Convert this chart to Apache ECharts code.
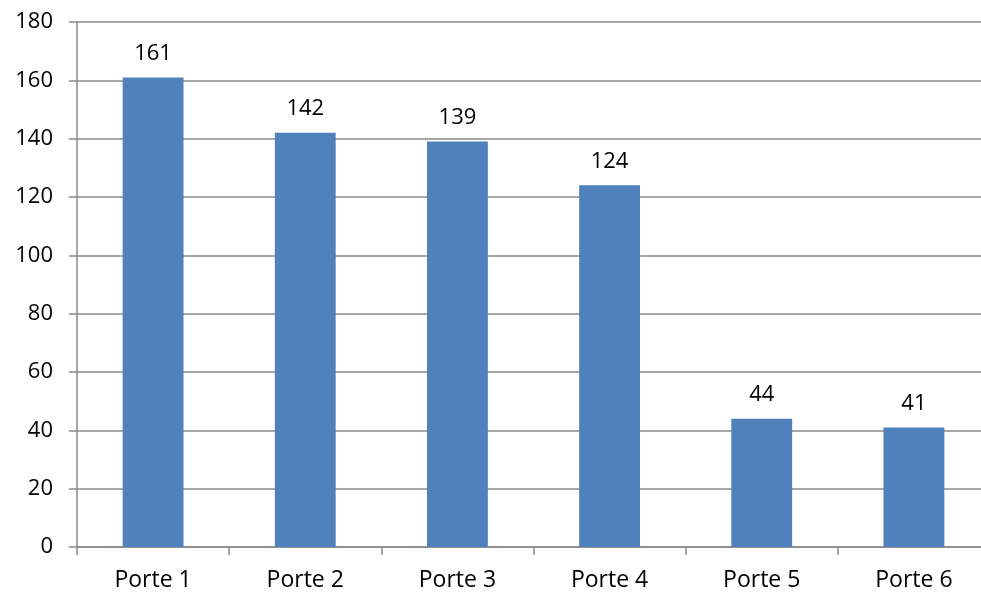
<!DOCTYPE html>
<html>
<head>
<meta charset="utf-8">
<script src="https://cdn.jsdelivr.net/npm/echarts@6/dist/echarts.min.js"></script>
<style>
html,body{margin:0;padding:0;background:#fff;overflow:hidden;width:981px;height:592px;}
#chart{width:990px;height:592px;}
</style>
</head>
<body>
<div id="chart"></div>
<script>
var categories = ["Porte 1", "Porte 2", "Porte 3", "Porte 4", "Porte 5", "Porte 6"];
var values = [161, 142, 139, 124, 44, 41];
var yMin = 0, yMax = 180, yStep = 20;

var FONT = "Open Sans";
var LINE = '#8a8a8a';
var LW = 1.5;
var chart = echarts.init(document.getElementById('chart'), null, {renderer: 'canvas'});
chart.setOption({
  animation: false,
  backgroundColor: '#ffffff',
  grid: {left: 77, right: 0, top: 22, bottom: 45, containLabel: false},
  xAxis: {
    type: 'category',
    data: categories,
    boundaryGap: true,
    axisLine: {show: true, lineStyle: {color: LINE, width: LW}},
    axisTick: {show: true, length: 8, alignWithLabel: false, lineStyle: {color: LINE, width: LW}},
    axisLabel: {color: '#000000', fontFamily: FONT, fontSize: 23, margin: 22}
  },
  yAxis: {
    type: 'value',
    min: yMin, max: yMax, interval: yStep,
    axisLine: {show: true, lineStyle: {color: LINE, width: LW}},
    axisTick: {show: true, length: 8, inside: false, lineStyle: {color: LINE, width: LW}},
    splitLine: {show: true, lineStyle: {color: LINE, width: LW}},
    axisLabel: {color: '#000000', fontFamily: FONT, fontSize: 22, margin: 24}
  },
  series: [{
    type: 'bar',
    data: values,
    barWidth: '40%',
    itemStyle: {color: '#4F81BD'},
    label: {show: true, position: 'top', distance: 13, color: '#000000', fontFamily: FONT, fontSize: 22}
  }]
});
</script>
</body>
</html>
